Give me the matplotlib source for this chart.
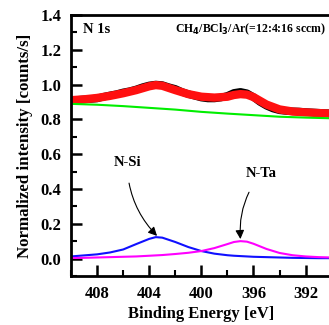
import numpy as np
import matplotlib
matplotlib.use("Agg")
import matplotlib.pyplot as plt
from matplotlib.ticker import MultipleLocator

# binding energy grid (eV) for the components
e_comp = [410, 409, 408, 407, 406, 405, 404, 403.5, 403, 402, 401, 400,
          399, 398, 397.5, 397, 396.5, 396, 395, 394, 393, 392, 391, 390]
n_si = [0.012, 0.018, 0.024, 0.035, 0.052, 0.083, 0.113, 0.123, 0.120, 0.095, 0.066, 0.043,
        0.028, 0.019, 0.016, 0.014, 0.012, 0.010, 0.008, 0.006, 0.004, 0.003, 0.002, 0.002]
n_ta = [0.003, 0.004, 0.006, 0.008, 0.010, 0.012, 0.016, 0.018, 0.020, 0.026, 0.033, 0.043,
        0.060, 0.083, 0.095, 0.100, 0.097, 0.085, 0.055, 0.032, 0.019, 0.012, 0.008, 0.006]
fit = [0.910, 0.915, 0.923, 0.935, 0.950, 0.968, 0.990, 0.997, 0.993, 0.968, 0.945, 0.930,
       0.925, 0.930, 0.940, 0.945, 0.942, 0.928, 0.885, 0.857, 0.845, 0.840, 0.836, 0.833]

e_bg = [410, 408, 406, 404, 402, 400, 398, 396, 394, 392, 390]
bg = [0.889, 0.884, 0.876, 0.866, 0.856, 0.843, 0.833, 0.824, 0.815, 0.810, 0.806]

e_exp = [410, 409.5, 409, 408.5, 408, 407.5, 407, 406.5, 406, 405.5, 405, 404.5, 404,
         403.5, 403, 402.5, 402, 401.5, 401, 400.5, 400, 399.5, 399, 398.5, 398, 397.5,
         397, 396.5, 396, 395.5, 395, 394.5, 394, 393.5, 393, 392.5, 392, 391.5, 391,
         390.5, 390]
exp = [0.908, 0.912, 0.915, 0.917, 0.920, 0.930, 0.938, 0.945, 0.955, 0.962, 0.972, 0.985,
       0.995, 1.000, 0.997, 0.985, 0.975, 0.958, 0.945, 0.935, 0.925, 0.920, 0.920, 0.925,
       0.935, 0.952, 0.958, 0.950, 0.928, 0.900, 0.878, 0.862, 0.852, 0.848, 0.846, 0.845,
       0.842, 0.840, 0.838, 0.836, 0.835]

plt.rcParams["font.family"] = "Liberation Serif"
plt.rcParams["font.weight"] = "bold"

fig = plt.figure(figsize=(3.29, 3.25), dpi=100)
ax = fig.add_axes([0.216, 0.151, 0.792, 0.803])

ax.plot(e_exp, exp, color="black", lw=5.5, solid_capstyle="butt")
ax.plot(e_comp, fit, color="#ff1010", lw=6, solid_capstyle="butt")
ax.plot(e_bg, bg, color="#00ee00", lw=1.5)
ax.plot(e_comp, n_si, color="#1010ff", lw=1.5)
ax.plot(e_comp, n_ta, color="#ff00ff", lw=1.5)

ax.annotate("N-Si", xy=(403.4, 0.13), xytext=(405.7, 0.55), ha="center", va="center",
            fontsize=10.5, fontweight="bold",
            arrowprops=dict(arrowstyle="-|>", color="black", lw=0.8,
                            shrinkA=8, shrinkB=0, mutation_scale=13,
                            connectionstyle="arc3,rad=0.2"))
ax.annotate("N-Ta", xy=(397.0, 0.112), xytext=(395.4, 0.49), ha="center", va="center",
            fontsize=10.5, fontweight="bold",
            arrowprops=dict(arrowstyle="-|>", color="black", lw=0.8,
                            shrinkA=8, shrinkB=0, mutation_scale=13,
                            connectionstyle="arc3,rad=0.2"))

ax.text(0.046, 0.943, "N 1s", transform=ax.transAxes, fontsize=10.5,
        fontweight="bold", va="center", ha="left")
ax.text(0.978, 0.945, "CH$_4$/BCl$_3$/Ar(=12:4:16 sccm)", transform=ax.transAxes,
        fontsize=8.5, fontweight="bold", va="center", ha="right")

ax.set_xlim(410, 390)
ax.set_ylim(-0.1, 1.4)
ax.xaxis.set_minor_locator(MultipleLocator(2))
ax.yaxis.set_major_locator(MultipleLocator(0.2))
ax.yaxis.set_minor_locator(MultipleLocator(0.1))
ax.yaxis.set_major_formatter(plt.FormatStrFormatter("%.1f"))
ax.set_xticks([408, 404, 400, 396, 392])

ax.tick_params(which="major", direction="in", length=8, width=1.8, labelsize=12, pad=7)
ax.tick_params(which="minor", direction="in", length=4.5, width=1.5)
ax.tick_params(axis="y", which="both", right=False)
ax.tick_params(axis="x", which="both", top=False)
for lab in ax.get_xticklabels() + ax.get_yticklabels():
    lab.set_fontweight("bold")
for s in ax.spines.values():
    s.set_linewidth(2)

ax.set_xlabel("Binding Energy [eV]", fontsize=12, fontweight="bold", labelpad=3)
ax.set_ylabel("Normalized intensity [counts/s]", fontsize=12.2, fontweight="bold", labelpad=5)

fig.savefig("out.png", dpi=100)
